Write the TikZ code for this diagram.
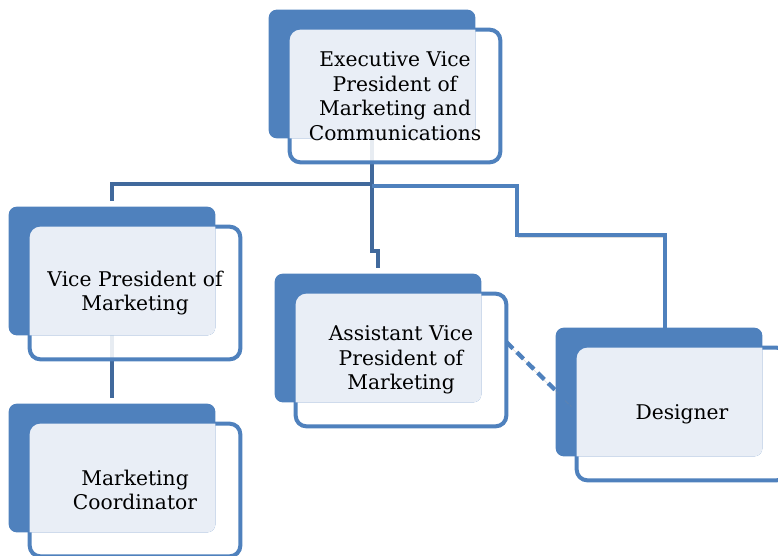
\documentclass[tikz,border=0pt]{standalone}
\usepackage{fontspec}
\setmainfont{DejaVu Serif}
\usetikzlibrary{backgrounds}

\definecolor{boxblue}{HTML}{4F81BD}
\definecolor{boxlight}{HTML}{E9EEF6}
\definecolor{linkdark}{HTML}{41699C}

\tikzset{
  frontbox/.style={draw=boxblue, line width=3pt, fill=white, fill opacity=0.88,
    rounded corners=8pt, minimum width=158pt, minimum height=99.5pt, outer sep=0pt},
  backbox/.style={fill=boxblue, rounded corners=6pt, minimum width=155pt,
    minimum height=96.5pt, outer sep=0pt},
  boxtext/.style={align=center, text=black, font=\fontsize{15.2}{18.4}\selectfont},
  darklink/.style={draw=linkdark, line width=3.2pt},
  link/.style={draw=boxblue, line width=3.2pt,
    preaction={draw=black!45, opacity=0.3, transform canvas={shift={(1pt,-1.5pt)}}}}
}

\begin{document}
\begin{tikzpicture}[x=0.75pt,y=-0.75pt]
    \useasboundingbox (0,0) rectangle (778,556);
    \clip (0,0) rectangle (778,556);
    % back box centres, the front box sits 23/22 further down right
    \foreach \nm/\bx/\by/\txt in {
      evp/372/74/{Executive Vice\\President of\\Marketing and\\Communications},
      vp/112/271/{Vice President of\\Marketing},
      avp/378/338/{Assistant Vice\\President of\\Marketing},
      des/659/392/{Designer},
      mc/112/468/{Marketing\\Coordinator}}
    {
      \node[frontbox] (\nm) at ({\bx+23},{\by+22}) {};
      \node[backbox] (\nm-back) at (\bx,\by) {};
      \begin{scope}
        \clip[rounded corners=6pt] (\nm-back.north west) rectangle (\nm-back.south east);
        \fill[boxlight, rounded corners=8pt] (\nm.north west) rectangle (\nm.south east);
      \end{scope}
      \node[boxtext] (\nm-label) at (\nm) {\txt};
    }
    \coordinate (fork) at ([yshift=-16pt]evp.south -| evp-back.south);
    \coordinate (bend) at (517,235);
    \begin{pgfonlayer}{background}
      \draw[darklink] (evp-back.south) -- (fork) -| ([yshift=4.5pt]vp-back.north);
      \draw[darklink] (fork) |- ([yshift=17pt]avp-back.north) -- ([yshift=4.5pt]avp-back.north);
      \draw[link] ([yshift=-1.5pt]fork) -| (bend) -| ([xshift=4.5pt]des-back.north);
      \draw[darklink] (vp-back.south) -- ([yshift=4.5pt]mc-back.north);
    \end{pgfonlayer}
    % dotted line report
    \draw[link, dash pattern=on 7pt off 4pt] ([yshift=13.5pt]avp.east) -- ([yshift=7pt,xshift=-5pt]des.west);
\end{tikzpicture}
\end{document}
